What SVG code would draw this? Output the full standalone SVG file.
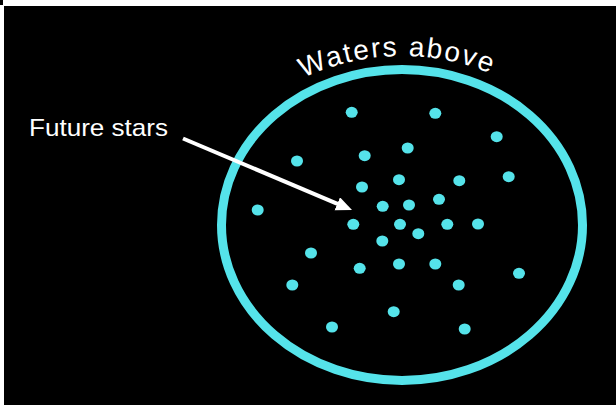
<svg xmlns="http://www.w3.org/2000/svg" width="616" height="405" viewBox="0 0 616 405">
  <style>
    .dot { fill: #55e3ea; }
    .label { fill: #ffffff; font-family: "Liberation Sans", Arial, sans-serif; }
    .conn { stroke: #ffffff; stroke-width: 4; fill: none; }
  </style>
  <defs>
    <marker id="arrowhead" markerUnits="userSpaceOnUse" markerWidth="18" markerHeight="16" refX="6" refY="7" orient="auto">
      <path d="M0,0 L16,7 L0,14 Z" fill="#ffffff"/>
    </marker>
    <path id="arcPath" d="M 202,226 A 200,170 0 0 1 602,226"/>
  </defs>
  <rect x="0" y="0" width="616" height="405" fill="#ffffff"/>
  <rect x="4" y="6" width="612" height="399" fill="#000000"/>
  <rect x="0" y="0" width="3" height="5" fill="#000000"/>

  <g id="waters-above">
    <ellipse cx="402" cy="225" rx="180.5" ry="155.5" fill="none" stroke="#55e3ea" stroke-width="9"/>
    <text class="label" font-size="28" text-anchor="middle">
      <textPath href="#arcPath" startOffset="49%" textLength="192" lengthAdjust="spacing">Waters above</textPath>
    </text>
  </g>

  <g id="future-stars-label">
    <text class="label" x="29" y="136" font-size="24" textLength="139" lengthAdjust="spacingAndGlyphs">Future stars</text>
  </g>

  <g id="stars">
    <ellipse class="dot" cx="351.7" cy="112.3" rx="6" ry="5.5"/>
    <ellipse class="dot" cx="435.3" cy="113.3" rx="6" ry="5.5"/>
    <ellipse class="dot" cx="496.7" cy="136.7" rx="6" ry="5.5"/>
    <ellipse class="dot" cx="407.7" cy="148" rx="6" ry="5.5"/>
    <ellipse class="dot" cx="364.7" cy="155.7" rx="6" ry="5.5"/>
    <ellipse class="dot" cx="297" cy="161" rx="6" ry="5.5"/>
    <ellipse class="dot" cx="508.7" cy="176.7" rx="6" ry="5.5"/>
    <ellipse class="dot" cx="399" cy="179.7" rx="6" ry="5.5"/>
    <ellipse class="dot" cx="459.3" cy="180.7" rx="6" ry="5.5"/>
    <ellipse class="dot" cx="362" cy="187" rx="6" ry="5.5"/>
    <ellipse class="dot" cx="257.7" cy="210" rx="6" ry="5.5"/>
    <ellipse class="dot" cx="439" cy="199.3" rx="6" ry="5.5"/>
    <ellipse class="dot" cx="382.7" cy="206.3" rx="6" ry="5.5"/>
    <ellipse class="dot" cx="409" cy="205" rx="6" ry="5.5"/>
    <ellipse class="dot" cx="353.3" cy="224.3" rx="6" ry="5.5"/>
    <ellipse class="dot" cx="400" cy="224.3" rx="6" ry="5.5"/>
    <ellipse class="dot" cx="447.3" cy="224.3" rx="6" ry="5.5"/>
    <ellipse class="dot" cx="478" cy="224" rx="6" ry="5.5"/>
    <ellipse class="dot" cx="418.3" cy="233.7" rx="6" ry="5.5"/>
    <ellipse class="dot" cx="382.3" cy="241" rx="6" ry="5.5"/>
    <ellipse class="dot" cx="311" cy="253" rx="6" ry="5.5"/>
    <ellipse class="dot" cx="359.7" cy="268.3" rx="6" ry="5.5"/>
    <ellipse class="dot" cx="399" cy="264" rx="6" ry="5.5"/>
    <ellipse class="dot" cx="435.3" cy="264" rx="6" ry="5.5"/>
    <ellipse class="dot" cx="519" cy="273.3" rx="6" ry="5.5"/>
    <ellipse class="dot" cx="292.3" cy="285" rx="6" ry="5.5"/>
    <ellipse class="dot" cx="458.7" cy="285" rx="6" ry="5.5"/>
    <ellipse class="dot" cx="393.7" cy="311.7" rx="6" ry="5.5"/>
    <ellipse class="dot" cx="332" cy="327" rx="6" ry="5.5"/>
    <ellipse class="dot" cx="464.7" cy="329" rx="6" ry="5.5"/>
  </g>

  <g id="connectors">
    <path class="conn" d="M 183,138.5 L 342.8,206.1" marker-end="url(#arrowhead)"/>
  </g>
</svg>
